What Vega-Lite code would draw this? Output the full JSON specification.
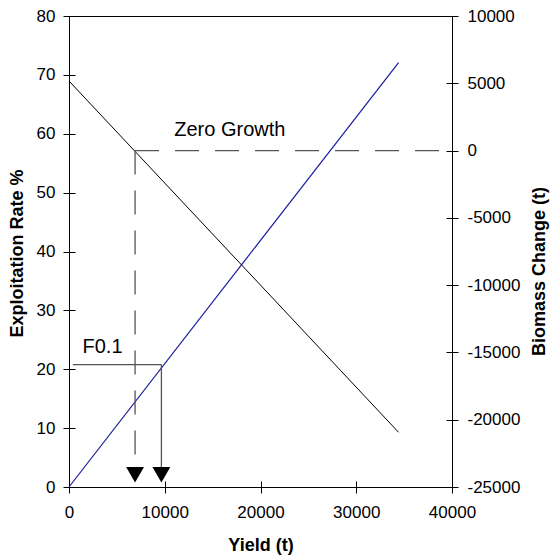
{
  "$schema": "https://vega.github.io/schema/vega-lite/v6.json",
  "width": 383,
  "height": 471,
  "autosize": "none",
  "padding": {"left": 69, "top": 16, "right": 98, "bottom": 68},
  "background": "white",
  "config": {
    "font": "Liberation Sans",
    "view": {"stroke": "black", "strokeWidth": 1},
    "axis": {
      "domain": false,
      "grid": false,
      "offset": -6,
      "tickSize": 12,
      "tickColor": "black",
      "tickWidth": 1,
      "labelColor": "black",
      "labelFontSize": 17,
      "labelFont": "Liberation Sans",
      "labelFlush": false,
      "labelOverlap": false,
      "titleColor": "black",
      "titleFont": "Liberation Sans",
      "titleFontSize": 18,
      "titleFontWeight": "bold",
      "labelExpr": "'' + datum.value"
    }
  },
  "datasets": {
    "blue": [{"yield": 0, "pct": 0}, {"yield": 34420, "pct": 72.1}],
    "black": [{"yield": 0, "bio": 5170}, {"yield": 34420, "bio": -20935}],
    "f01h": [{"yield": 400, "yield2": 9650, "pct": 20.8}],
    "f01v": [{"yield": 9650, "pct": 20.8, "pct2": 3.4}],
    "zgh": [{"yield": 6900, "yield2": 40000, "bio": 0}],
    "zgv": [{"yield": 6900, "bio": 0, "bio2": -23540}],
    "arrows": [{"yield": 6900, "pct": 2.1}, {"yield": 9650, "pct": 2.1}],
    "f01label": [{"yield": 3500, "pct": 23.8, "label": "F0.1"}],
    "zglabel": [{"yield": 16800, "bio": 1550, "label": "Zero Growth"}]
  },
  "encoding": {
    "x": {
      "field": "yield",
      "type": "quantitative",
      "scale": {"domain": [0, 40000], "nice": false, "zero": false},
      "axis": {
        "values": [0, 10000, 20000, 30000, 40000],
        "labelPadding": 11,
        "title": "Yield (t)",
        "titleX": 191.5,
        "titleY": 64,
        "titleAlign": "center",
        "titleBaseline": "middle"
      }
    }
  },
  "layer": [
    {
      "encoding": {
        "y": {
          "field": "pct",
          "type": "quantitative",
          "scale": {"domain": [0, 80], "nice": false, "zero": false},
          "axis": {
            "orient": "left",
            "values": [0, 10, 20, 30, 40, 50, 60, 70, 80],
            "labelPadding": 8,
            "title": "Exploitation Rate %",
            "titleAngle": 270,
            "titleX": -57.5,
            "titleY": 237,
            "titleAlign": "center",
            "titleBaseline": "middle"
          }
        }
      },
      "layer": [
        {
          "data": {"name": "blue"},
          "mark": {"type": "line", "color": "#1a1a99", "strokeWidth": 1.2}
        },
        {
          "data": {"name": "f01h"},
          "mark": {"type": "rule", "color": "#555555", "strokeWidth": 1.3},
          "encoding": {"x2": {"field": "yield2"}}
        },
        {
          "data": {"name": "f01v"},
          "mark": {"type": "rule", "color": "#555555", "strokeWidth": 1.3},
          "encoding": {"y2": {"field": "pct2"}}
        },
        {
          "data": {"name": "arrows"},
          "mark": {"type": "point", "shape": "triangle-down", "filled": true, "color": "black", "size": 320, "opacity": 1}
        },
        {
          "data": {"name": "f01label"},
          "mark": {"type": "text", "fontSize": 20, "font": "Liberation Sans", "color": "black", "align": "center", "baseline": "middle"},
          "encoding": {"text": {"field": "label"}}
        },
        {
          "data": {"values": [{}]},
          "mark": {"type": "rule", "color": "#8c8c8c", "strokeWidth": 1},
          "encoding": {
            "x": {"datum": 0},
            "x2": {"datum": 40000},
            "y": {"datum": 80}
          }
        }
      ]
    },
    {
      "encoding": {
        "y": {
          "field": "bio",
          "type": "quantitative",
          "scale": {"domain": [-25000, 10000], "nice": false, "zero": false},
          "axis": {
            "orient": "right",
            "values": [-25000, -20000, -15000, -10000, -5000, 0, 5000, 10000],
            "labelPadding": 9,
            "title": "Biomass Change (t)",
            "titleAngle": 270,
            "titleX": 93,
            "titleY": 255,
            "titleAlign": "center",
            "titleBaseline": "middle"
          }
        }
      },
      "layer": [
        {
          "data": {"name": "black"},
          "mark": {"type": "line", "color": "black", "strokeWidth": 1}
        },
        {
          "data": {"name": "zgh"},
          "mark": {"type": "rule", "color": "#555555", "strokeWidth": 1.3, "strokeDash": [24, 16]},
          "encoding": {"x2": {"field": "yield2"}}
        },
        {
          "data": {"name": "zgv"},
          "mark": {"type": "rule", "color": "#555555", "strokeWidth": 1.3, "strokeDash": [24, 16]},
          "encoding": {"y2": {"field": "bio2"}}
        },
        {
          "data": {"name": "zglabel"},
          "mark": {"type": "text", "fontSize": 20, "font": "Liberation Sans", "color": "black", "align": "center", "baseline": "middle"},
          "encoding": {"text": {"field": "label"}}
        }
      ]
    }
  ],
  "resolve": {"scale": {"y": "independent"}}
}
